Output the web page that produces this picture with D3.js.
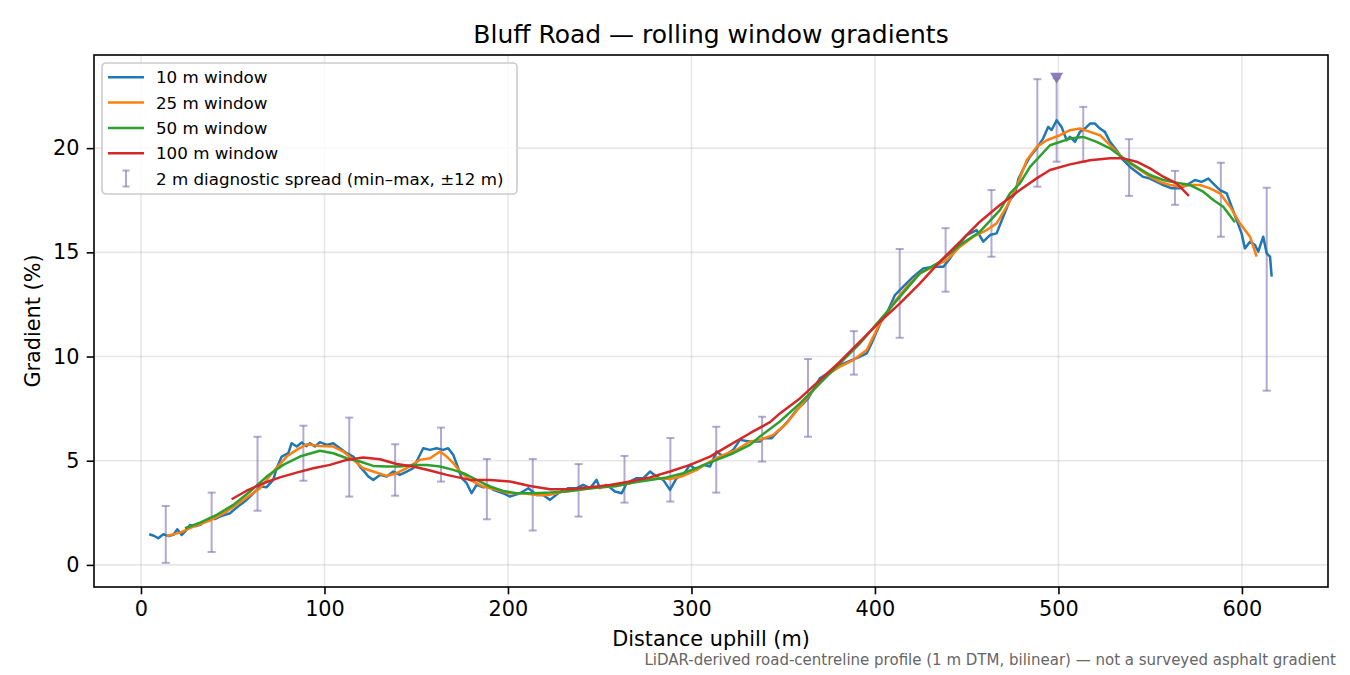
<!DOCTYPE html>
<html>
<head>
<meta charset="utf-8">
<script src="https://cdn.jsdelivr.net/npm/d3@7"></script>
<style>
  body { margin: 0; background: #fff; }
  svg { display: block; }
  text { font-family: 'DejaVu Sans', sans-serif; }
</style>
</head>
<body>
<svg width="1350" height="675"></svg>
<script>
// ---- data ----
const dist10 = [4.5, 7, 9.4, 12.2, 15, 17.6, 19.8, 22.2, 24.5, 26.7, 29.5, 32.2, 35, 37.6, 40.3, 43, 45.8, 48.5, 51.2, 54,
    56.7, 59.4, 62.2, 64.9, 68.5, 72.1, 73.9, 76.7, 80.3, 82.1, 84.9, 87.6, 90, 92.1, 94.8, 97.5, 101.2, 104.8, 108.4, 112.1,
    115.7, 119.3, 121.5, 123.9, 126.6, 130.2, 133.9, 137.5, 141.1, 144.8, 148.4, 151.1, 153.8, 157.5, 161.1, 164.7, 167.4, 170.2, 172.9, 174.8,
    177.5, 180.2, 182.9, 186.6, 189.5, 192, 197.4, 201.1, 206.5, 211.1, 215.6, 219.2, 222.9, 227.4, 232.9, 237.4, 241, 244.7, 248.3, 250.1,
    253.8, 258.3, 262, 264.7, 270.1, 273.8, 277.4, 281, 284.6, 288.3, 291.9, 295.5, 299.2, 302.8, 306.4, 310.1, 313.7, 317.3, 322.8, 326.4,
    330, 333.7, 337.3, 339.2, 343.7, 347, 350, 353.5, 357.3, 360.5, 363.7, 367, 370, 375.5, 380.9, 387.3, 391.8, 395.5, 398, 400.9,
    403.5, 406.4, 410.9, 415.4, 420.9, 426.3, 431.8, 437.3, 440.9, 442.7, 446, 450, 455.4, 459, 462.7, 466.3, 469.9, 473.6, 476.3, 478.1,
    480.8, 484.5, 488.1, 491.7, 494.4, 496.3, 499, 501.7, 504.5, 506.3, 509, 511.7, 514.4, 517.2, 519.9, 522.6, 525.3, 528.1, 531.7, 535.3,
    539, 542.6, 546.2, 549.9, 553.5, 557.1, 561.7, 566.2, 569.9, 574.4, 578, 581.7, 584.4, 588, 591.7, 594.4, 597.1, 599.8, 601.6, 604.4,
    607.1, 608.9, 611.6, 613.5, 615.3, 616.2];
const grad10 = [1.47, 1.40, 1.28, 1.47, 1.38, 1.44, 1.71, 1.44, 1.65, 1.92, 1.85, 1.92, 2.10, 2.24, 2.20, 2.32, 2.40, 2.48, 2.68, 2.88,
    3.05, 3.28, 3.52, 3.76, 3.73, 4.08, 4.64, 5.20, 5.36, 5.84, 5.68, 5.87, 5.70, 5.84, 5.68, 5.89, 5.76, 5.84, 5.60, 5.36,
    5.20, 4.72, 4.50, 4.24, 4.08, 4.32, 4.24, 4.48, 4.32, 4.48, 4.64, 5.12, 5.60, 5.52, 5.60, 5.52, 5.60, 5.28, 4.64, 4.16,
    3.92, 3.44, 3.84, 3.72, 3.80, 3.60, 3.44, 3.28, 3.44, 3.68, 3.36, 3.36, 3.12, 3.44, 3.68, 3.68, 3.84, 3.68, 4.08, 3.68,
    3.84, 3.52, 3.44, 3.92, 4.16, 4.16, 4.48, 4.24, 4.08, 3.60, 4.16, 4.32, 4.80, 4.56, 4.80, 4.72, 5.44, 5.20, 5.52, 6.00,
    5.95, 5.92, 5.92, 6.08, 6.08, 6.40, 6.64, 7.00, 7.43, 7.70, 8.00, 8.50, 8.96, 9.27, 9.59, 9.83, 9.99, 10.15, 10.60, 11.19,
    11.70, 12.07, 12.95, 13.35, 13.83, 14.23, 14.31, 14.31, 14.71, 14.95, 15.40, 15.83, 16.07, 15.51, 15.83, 15.91, 16.71, 17.51, 17.80, 18.50,
    19.00, 19.59, 19.99, 20.47, 21.02, 20.87, 21.34, 21.02, 20.38, 20.54, 20.30, 20.78, 20.94, 21.18, 21.18, 20.94, 20.78, 20.30, 19.90, 19.42,
    19.10, 18.86, 18.62, 18.54, 18.38, 18.23, 18.07, 18.07, 18.23, 18.47, 18.38, 18.54, 18.30, 17.99, 17.83, 17.19, 16.55, 15.91, 15.19, 15.51,
    15.35, 15.03, 15.75, 14.95, 14.79, 13.83];

const dist25 = [14, 21.3, 28.5, 37.6, 46.7, 55.8, 64.9, 72.1, 79.4, 84.8, 90.3, 97.5, 104.8, 110.2, 115.7, 121.1, 126.6, 133.9, 139.3, 144.8,
    152, 157.5, 163, 166.6, 170.2, 173.8, 179.3, 186.5, 193.8, 201.1, 208.3, 215.6, 222.9, 230.1, 237.4, 244.7, 251.9, 259.2, 266.5, 273.7,
    281, 288.3, 295.5, 302.8, 310.1, 317.3, 324.6, 331.9, 337.3, 344.6, 351.9, 359.1, 366.4, 373.7, 380.9, 388.2, 395.5, 402.7, 410, 417.3,
    424.5, 431.8, 439.1, 446.3, 453.6, 460.9, 466.3, 471.8, 477.2, 482.7, 488.1, 493.6, 500.8, 506.3, 511.7, 517.2, 522.6, 528.1, 533.5, 539,
    544.4, 549.9, 555.3, 560.8, 566.2, 571.7, 577.1, 582.6, 588, 593.5, 598.9, 604.4, 608];
const grad25 = [1.39, 1.55, 1.84, 2.13, 2.56, 3.12, 3.68, 4.48, 5.20, 5.52, 5.79, 5.71, 5.68, 5.44, 5.04, 4.64, 4.48, 4.27, 4.40, 4.64,
    5.04, 5.12, 5.44, 5.20, 4.88, 4.48, 4.08, 3.76, 3.60, 3.44, 3.44, 3.36, 3.36, 3.52, 3.60, 3.68, 3.73, 3.79, 3.92, 4.08,
    4.16, 4.12, 4.27, 4.56, 4.96, 5.28, 5.52, 5.92, 6.00, 6.24, 6.80, 7.59, 8.39, 9.11, 9.51, 9.83, 10.31, 11.59, 12.55, 13.35,
    13.99, 14.31, 14.63, 15.27, 15.75, 16.07, 16.39, 17.19, 18.15, 19.42, 20.06, 20.38, 20.62, 20.86, 20.94, 20.78, 20.62, 20.14, 19.66, 19.27,
    18.95, 18.63, 18.38, 18.23, 18.15, 18.23, 18.23, 18.07, 17.83, 17.19, 16.39, 15.75, 14.79];

const dist50 = [24, 32.2, 41.3, 50.3, 59.4, 68.5, 77.5, 86.6, 97.5, 104.8, 112.1, 119.3, 126.6, 133.9, 141.1, 148.4, 155.7, 163, 170.2, 175.7,
    182.9, 190.2, 197.4, 204.7, 213.8, 222.9, 232, 241, 250.1, 259.2, 268.3, 277.4, 286.5, 295.5, 304.6, 313.7, 322.8, 331.9, 337.3, 348.2,
    359.1, 370, 380.9, 391.8, 402.7, 413.6, 424.5, 435.4, 446.3, 457.2, 468.1, 473.6, 479, 484.5, 495.4, 506.3, 513.5, 520.8, 528.1, 535.3,
    542.6, 549.9, 557.1, 564.4, 571.7, 578.9, 584.4, 589.8, 596.2];
const grad50 = [1.76, 2.03, 2.40, 2.88, 3.52, 4.24, 4.80, 5.20, 5.48, 5.36, 5.12, 4.96, 4.75, 4.72, 4.72, 4.80, 4.80, 4.72, 4.56, 4.40,
    4.08, 3.76, 3.55, 3.44, 3.44, 3.47, 3.52, 3.63, 3.73, 3.79, 3.95, 4.08, 4.20, 4.40, 4.72, 5.04, 5.36, 5.76, 6.16, 6.88,
    7.75, 8.71, 9.67, 10.63, 11.75, 12.87, 13.99, 14.55, 15.35, 15.99, 17.03, 17.83, 18.31, 19.10, 20.14, 20.46, 20.54, 20.30, 19.99, 19.51,
    19.11, 18.71, 18.47, 18.34, 18.23, 17.91, 17.51, 17.19, 16.44];

const dist100 = [49.4, 57.6, 66.7, 75.7, 84.8, 93.9, 103, 112.1, 121.1, 130.2, 139.3, 148.4, 157.5, 166.6, 179.3, 190.2, 201.1, 212, 222.9, 233.8,
    244.7, 255.6, 266.5, 277.4, 288.3, 299.2, 310.1, 321, 331.9, 342.8, 348.2, 359.1, 370, 380.9, 391.8, 402.7, 413.6, 424.5, 435.4, 446.3,
    457.2, 468.1, 479, 488.1, 495.4, 506.3, 517.2, 528.1, 535.3, 542.6, 549.9, 557.1, 564.4, 571.1];
const grad100 = [3.15, 3.56, 3.92, 4.20, 4.43, 4.64, 4.80, 5.04, 5.15, 5.07, 4.84, 4.72, 4.53, 4.32, 4.08, 4.08, 4.00, 3.79, 3.63, 3.63,
    3.73, 3.84, 4.00, 4.20, 4.48, 4.80, 5.20, 5.76, 6.32, 6.85, 7.27, 7.99, 8.87, 9.75, 10.71, 11.67, 12.55, 13.51, 14.55, 15.50,
    16.47, 17.27, 17.99, 18.55, 18.95, 19.22, 19.42, 19.51, 19.51, 19.35, 19.03, 18.63, 18.31, 17.71];

// 2 m diagnostic spread, min–max within ±12 m
const spreadDist = [13.5, 38.5, 63.5, 88.5, 113.5, 138.5, 163.5, 188.5, 213.5, 238.5, 263.5, 288.5, 313.5, 338.5, 363.5, 388.5, 413.5,
    438.5, 463.5, 488.5, 513.5, 538.5, 563.5, 588.5, 613.5];
const spreadMin = [0.10, 0.62, 2.60, 4.04, 3.28, 3.32, 4.00, 2.19, 1.65, 2.32, 2.99, 3.04, 3.47, 4.96, 6.15, 9.13, 10.90,
    13.11, 14.79, 18.15, 19.35, 17.71, 17.28, 15.75, 8.36];
const spreadMax = [2.83, 3.47, 6.15, 6.68, 7.07, 5.79, 6.59, 5.08, 5.08, 4.84, 5.23, 6.09, 6.63, 7.11, 9.88, 11.22, 15.16,
    16.16, 17.99, 23.31, 21.98, 20.43, 18.91, 19.30, 18.10];

// steepest 2 m point
const peakDist = 499, peakMin = 19.35, peakMax = 23.35;

const xTicks = [0, 100, 200, 300, 400, 500, 600];
const yTicks = [0, 5, 10, 15, 20];
const xLimits = [-25.6, 646.9], yLimits = [-1.06, 24.47];

const seriesLabels = ['10 m window', '25 m window', '50 m window', '100 m window'];
const seriesColors = ['#1f77b4', '#ff7f0e', '#2ca02c', '#d62728'];
const spreadLabel = '2 m diagnostic spread (min\u2013max, \u00b112 m)';
const spreadColor = '#8172b3';

// ---- drawing ----
let svg = d3.select('svg'),
    margin = {left: 94, right: 22, top: 55, bottom: 88},
    width = 1350 - margin.left - margin.right,
    height = 675 - margin.top - margin.bottom,
    g = svg.append('g').attr('transform', `translate(${margin.left},${margin.top})`),
    x = d3.scaleLinear().domain(xLimits).range([0, width]),
    y = d3.scaleLinear().domain(yLimits).range([height, 0]);

svg.append('defs').append('clipPath').attr('id', 'plot-clip')
    .append('rect').attr('width', width).attr('height', height);

// grid
g.append('g').selectAll('line').data(xTicks).enter().append('line')
    .attr('x1', d => x(d)).attr('x2', d => x(d))
    .attr('y1', 0).attr('y2', height)
    .attr('stroke', '#b0b0b0').attr('stroke-opacity', 0.3).attr('stroke-width', 1.6);
g.append('g').selectAll('line').data(yTicks).enter().append('line')
    .attr('x1', 0).attr('x2', width)
    .attr('y1', d => y(d)).attr('y2', d => y(d))
    .attr('stroke', '#b0b0b0').attr('stroke-opacity', 0.3).attr('stroke-width', 1.6);

let plot = g.append('g').attr('clip-path', 'url(#plot-clip)');

// error bars
function errorBars(root, xs, lo, hi) {
    let bars = root.selectAll('g.bar').data(xs.map((d, i) => [d, lo[i], hi[i]]))
        .enter().append('g').attr('class', 'bar')
        .attr('stroke', spreadColor).attr('stroke-opacity', 0.6).attr('stroke-width', 2);
    bars.append('line')
        .attr('x1', d => x(d[0])).attr('x2', d => x(d[0]))
        .attr('y1', d => y(d[1])).attr('y2', d => y(d[2]));
    [1, 2].forEach(k => bars.append('line')
        .attr('x1', d => x(d[0]) - 4).attr('x2', d => x(d[0]) + 4)
        .attr('y1', d => y(d[k])).attr('y2', d => y(d[k])));
}
errorBars(plot.append('g'), spreadDist, spreadMin, spreadMax);
errorBars(plot.append('g'), [peakDist], [peakMin], [peakMax]);

// rolling window lines
let series = [[dist10, grad10], [dist25, grad25], [dist50, grad50], [dist100, grad100]];
let lineFunc = d3.line().x(d => x(d[0])).y(d => y(d[1]));
plot.selectAll('path.series').data(series).enter().append('path')
    .attr('class', 'series')
    .attr('fill', 'none')
    .attr('stroke', (d, i) => seriesColors[i])
    .attr('stroke-width', 2.5)
    .attr('stroke-linejoin', 'round')
    .attr('d', d => lineFunc(d[0].map((e, i) => [e, d[1][i]])));

// peak marker
plot.append('path')
    .attr('d', 'M-6.5,-5.5L6.5,-5.5L0,5.5Z')
    .attr('transform', `translate(${x(peakDist)},${y(peakMax)})`)
    .attr('fill', spreadColor).attr('fill-opacity', 0.9);

// axes
function styleAxis(sel) {
    sel.select('.domain').remove();
    sel.selectAll('.tick line').attr('stroke', '#000').attr('stroke-width', 1.6);
    sel.selectAll('.tick text').attr('fill', '#000')
        .style('font-size', '20.8px').style('font-family', "'DejaVu Sans', sans-serif");
}
g.append('g')
    .attr('transform', `translate(0,${height})`)
    .call(d3.axisBottom(x).tickValues(xTicks).tickSize(7.3).tickPadding(7.3))
    .call(styleAxis);
g.append('g')
    .call(d3.axisLeft(y).tickValues(yTicks).tickSize(7.3).tickPadding(7.3))
    .call(styleAxis);

g.append('rect')
    .attr('width', width).attr('height', height)
    .attr('fill', 'none').attr('stroke', '#000').attr('stroke-width', 1.6);

// labels
svg.append('text')
    .attr('x', margin.left + width / 2).attr('y', 43)
    .attr('text-anchor', 'middle').style('font-size', '25px')
    .text('Bluff Road \u2014 rolling window gradients');
svg.append('text')
    .attr('x', margin.left + width / 2).attr('y', 646)
    .attr('text-anchor', 'middle').style('font-size', '20.8px')
    .text('Distance uphill (m)');
svg.append('text')
    .attr('transform', `translate(40,${margin.top + height / 2}) rotate(-90)`)
    .attr('text-anchor', 'middle').style('font-size', '20.8px')
    .text('Gradient (%)');
svg.append('text')
    .attr('x', 1336).attr('y', 665)
    .attr('text-anchor', 'end').style('font-size', '15px').attr('fill', '#666')
    .text('LiDAR-derived road-centreline profile (1 m DTM, bilinear) \u2014 not a surveyed asphalt gradient');

// legend
let legend = g.append('g').attr('transform', 'translate(8,8)');
legend.append('rect')
    .attr('width', 415).attr('height', 131).attr('rx', 4)
    .attr('fill', '#fff').attr('fill-opacity', 0.8)
    .attr('stroke', '#cccccc').attr('stroke-width', 1.6);
let rows = legend.selectAll('g.row').data(seriesLabels.concat([spreadLabel]))
    .enter().append('g').attr('class', 'row')
    .attr('transform', (d, i) => `translate(0,${14.3 + i * 25.3})`);
rows.filter((d, i) => i < 4).append('line')
    .attr('x1', 6).attr('x2', 42).attr('y1', 0).attr('y2', 0)
    .attr('stroke', (d, i) => seriesColors[i]).attr('stroke-width', 2.5);
let handle = rows.filter((d, i) => i === 4).append('g')
    .attr('stroke', spreadColor).attr('stroke-opacity', 0.6).attr('stroke-width', 2);
handle.append('line').attr('x1', 24).attr('x2', 24).attr('y1', -8).attr('y2', 8);
handle.append('line').attr('x1', 20.5).attr('x2', 27.5).attr('y1', -8).attr('y2', -8);
handle.append('line').attr('x1', 20.5).attr('x2', 27.5).attr('y1', 8).attr('y2', 8);
rows.append('text')
    .attr('x', 54).attr('y', 6)
    .style('font-size', '16.7px')
    .text(d => d);
</script>
</body>
</html>
